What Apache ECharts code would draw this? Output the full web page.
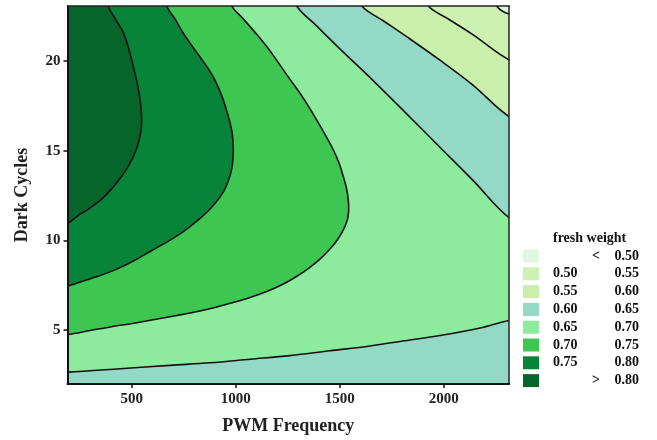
<!DOCTYPE html>
<html><head><meta charset="utf-8">
<script src="https://cdn.jsdelivr.net/npm/echarts@6/dist/echarts.min.js"></script>
<style>html,body{margin:0;padding:0;background:#fff}#c{width:657px;height:440px}</style>
</head><body><div id="c"></div>
<script>
// ---------- data ----------
const X_TICKS = [500, 1000, 1500, 2000];
const Y_TICKS = [5, 10, 15, 20];
const X_MIN = 191, X_MAX = 2314, Y_MIN = 2, Y_MAX = 23.06;

// contour lines, [PWM Frequency, Dark Cycles]
const line080 = [[387,23.06],[424,22.28],[460,21.56],[487,20.61],[508,19.67],[528,18.67],[540,17.83],[547,17.00],[546,16.27],[536,15.61],[521,15.05],[500,14.49],[473,13.94],[439,13.38],[400,12.83],[352,12.27],[295,11.77],[242,11.38],[191,10.96]];
const line075 = [[668,23.06],[708,22.34],[748,21.54],[790,20.83],[828,20.22],[862,19.67],[892,19.11],[917,18.50],[940,17.83],[958,17.16],[973,16.54],[984,15.88],[988,15.22],[987,14.61],[980,13.94],[965,13.34],[944,12.78],[915,12.28],[879,11.78],[833,11.27],[780,10.77],[723,10.29],[660,9.85],[588,9.38],[508,8.85],[428,8.40],[348,8.04],[267,7.74],[191,7.46]];
const line070 = [[981,23.06],[1026,22.47],[1069,21.91],[1110,21.36],[1149,20.80],[1189,20.17],[1229,19.50],[1268,18.86],[1309,18.20],[1350,17.47],[1389,16.72],[1429,15.91],[1469,15.05],[1497,14.30],[1517,13.57],[1533,12.88],[1541,12.27],[1543,11.66],[1537,11.16],[1518,10.60],[1489,10.04],[1451,9.49],[1405,8.96],[1352,8.46],[1292,7.99],[1229,7.57],[1149,7.15],[1069,6.82],[988,6.54],[909,6.29],[828,6.07],[732,5.85],[636,5.65],[516,5.40],[396,5.18],[300,4.98],[191,4.76]];
const line065Upper = [[1293,23.06],[1389,21.95],[1501,20.67],[1662,18.89],[1822,17.05],[1982,15.19],[2142,13.33],[2314,11.27]];
const line065Lower = [[191,2.66],[444,2.85],[684,3.04],[876,3.18],[1069,3.38],[1261,3.58],[1453,3.85],[1646,4.12],[1814,4.41],[1982,4.70],[2175,5.12],[2314,5.54]];
const line060 = [[1606,23.06],[1713,22.21],[1822,21.35],[1982,20.04],[2142,18.64],[2314,16.90]];
const line055 = [[1926,23.06],[2030,22.28],[2142,21.45],[2314,20.06]];
const line050 = [[2255,23.06],[2314,22.61]];

const LEVEL_COLORS = ['#e2f7df','#cdf1b0','#c8f0aa','#94d9c6','#8deb9d','#3ec652','#08843a','#05652b'];
const LEGEND_TITLE = 'fresh weight';
const LEGEND_FROM = ['<','0.50','0.55','0.60','0.65','0.70','0.75','>'];
const LEGEND_TO = ['0.50','0.55','0.60','0.65','0.70','0.75','0.80','0.80'];

// ---------- regions: each contour closed through points outside the (clipped) plot ----------
const DX = 60, DY = 0.6;
function closeTopLeft(c) { const s = c[0], e = c[c.length-1];
  return c.concat([[X_MIN-DX, e[1]], [X_MIN-DX, Y_MAX+DY], [s[0], Y_MAX+DY]]); }
function closeTopRight(c) { const s = c[0], e = c[c.length-1];
  return c.concat([[X_MAX+DX, e[1]], [X_MAX+DX, Y_MAX+DY], [s[0], Y_MAX+DY]]); }
function closeBottom(c) { const s = c[0], e = c[c.length-1];
  return c.concat([[X_MAX+DX, e[1]], [X_MAX+DX, Y_MIN-DY], [X_MIN-DX, Y_MIN-DY], [X_MIN-DX, s[1]]]); }

const REGIONS = [
  {color: LEVEL_COLORS[4], line: false, pts: [[X_MIN-DX,Y_MIN-DY],[X_MAX+DX,Y_MIN-DY],[X_MAX+DX,Y_MAX+DY],[X_MIN-DX,Y_MAX+DY]]},
  {color: LEVEL_COLORS[3], line: true, pts: closeBottom(line065Lower)},
  {color: LEVEL_COLORS[3], line: true, pts: closeTopRight(line065Upper)},
  {color: LEVEL_COLORS[2], line: true, pts: closeTopRight(line060)},
  {color: LEVEL_COLORS[1], line: true, pts: closeTopRight(line055)},
  {color: LEVEL_COLORS[0], line: true, pts: closeTopRight(line050)},
  {color: LEVEL_COLORS[5], line: true, pts: closeTopLeft(line070)},
  {color: LEVEL_COLORS[6], line: true, pts: closeTopLeft(line075)},
  {color: LEVEL_COLORS[7], line: true, pts: closeTopLeft(line080)}
];

const FONT = '"Liberation Serif","Times New Roman",serif';
const chart = echarts.init(document.getElementById('c'), null, {renderer: 'canvas'});

const legendGraphics = [];
const rowY0 = 256, rowStep = 17.8;
legendGraphics.push({type:'text', left: 553, top: 231, style:{text: LEGEND_TITLE, font: 'bold 14px ' + FONT, fill:'#111'}});
LEVEL_COLORS.forEach((c, i) => {
  const cy = rowY0 + i * rowStep;
  legendGraphics.push({type:'rect', shape:{x:523, y:cy-6.5, width:16, height:13}, style:{fill:c}});
  const from = LEGEND_FROM[i];
  if (from === '<' || from === '>') {
    legendGraphics.push({type:'text', x:596, y:cy, style:{text: from, font:'bold 14px ' + FONT, fill:'#111', align:'center', verticalAlign:'middle'}});
  } else {
    legendGraphics.push({type:'text', x:553, y:cy, style:{text: from, font:'bold 14px ' + FONT, fill:'#111', align:'left', verticalAlign:'middle'}});
  }
  legendGraphics.push({type:'text', x:639, y:cy, style:{text: LEGEND_TO[i], font:'bold 14px ' + FONT, fill:'#111', align:'right', verticalAlign:'middle'}});
});

const labelStyle = {fontFamily: FONT, fontWeight: 'bold', fontSize: 15, color: '#222', formatter: v => String(v)};
const hiddenAxis = {show: true, axisLabel:{show:false}, axisTick:{show:false}, splitLine:{show:false}};

chart.setOption({
  animation: false,
  backgroundColor: '#fff',
  grid: {left: 67.5, right: 148, top: 6, bottom: 55, containLabel: false},
  xAxis: [{
    type: 'value', min: X_MIN, max: X_MAX, z: 5,
    name: 'PWM Frequency', nameLocation: 'middle', nameGap: 33,
    nameTextStyle: {fontFamily: FONT, fontWeight: 'bold', fontSize: 18, color: '#222'},
    axisLine: {show: true, onZero: false, lineStyle: {color: '#111', width: 2}},
    axisTick: {show: true, length: 4, lineStyle: {color: '#111', width: 1.5}, customValues: X_TICKS},
    axisLabel: Object.assign({margin: 8, customValues: X_TICKS}, labelStyle),
    splitLine: {show: false}
  }, Object.assign({type:'value', position:'top', min:X_MIN, max:X_MAX, z:5,
    axisLine:{show:true, onZero:false, lineStyle:{color:'#222', width:1.5}}}, hiddenAxis)],
  yAxis: [{
    type: 'value', min: Y_MIN, max: Y_MAX, z: 5,
    name: 'Dark Cycles', nameLocation: 'middle', nameGap: 36, nameRotate: 90,
    nameTextStyle: {fontFamily: FONT, fontWeight: 'bold', fontSize: 18, color: '#222'},
    axisLine: {show: true, onZero: false, lineStyle: {color: '#111', width: 2}},
    axisTick: {show: true, length: 4, lineStyle: {color: '#111', width: 1.5}, customValues: Y_TICKS},
    axisLabel: Object.assign({margin: 7, customValues: Y_TICKS}, labelStyle),
    splitLine: {show: false}
  }, Object.assign({type:'value', position:'right', min:Y_MIN, max:Y_MAX, z:5,
    axisLine:{show:true, onZero:false, lineStyle:{color:'#222', width:1.5}}}, hiddenAxis)],
  graphic: legendGraphics,
  series: [{
    type: 'custom', z: 1, silent: true, clip: true,
    data: REGIONS.map((r, i) => [i]),
    encode: {x: 0},
    renderItem: function (params, api) {
      const r = REGIONS[params.dataIndex];
      const cs = params.coordSys;
      return {
        type: 'group',
        clipPath: {type: 'rect', shape: {x: cs.x, y: cs.y, width: cs.width, height: cs.height}},
        children: [{
          type: 'polygon',
          shape: {points: r.pts.map(p => api.coord(p)), smooth: 0.35},
          style: {fill: r.color, stroke: r.line ? '#111' : r.color, lineWidth: r.line ? 1.6 : 0}
        }]
      };
    }
  }]
});
</script></body></html>
